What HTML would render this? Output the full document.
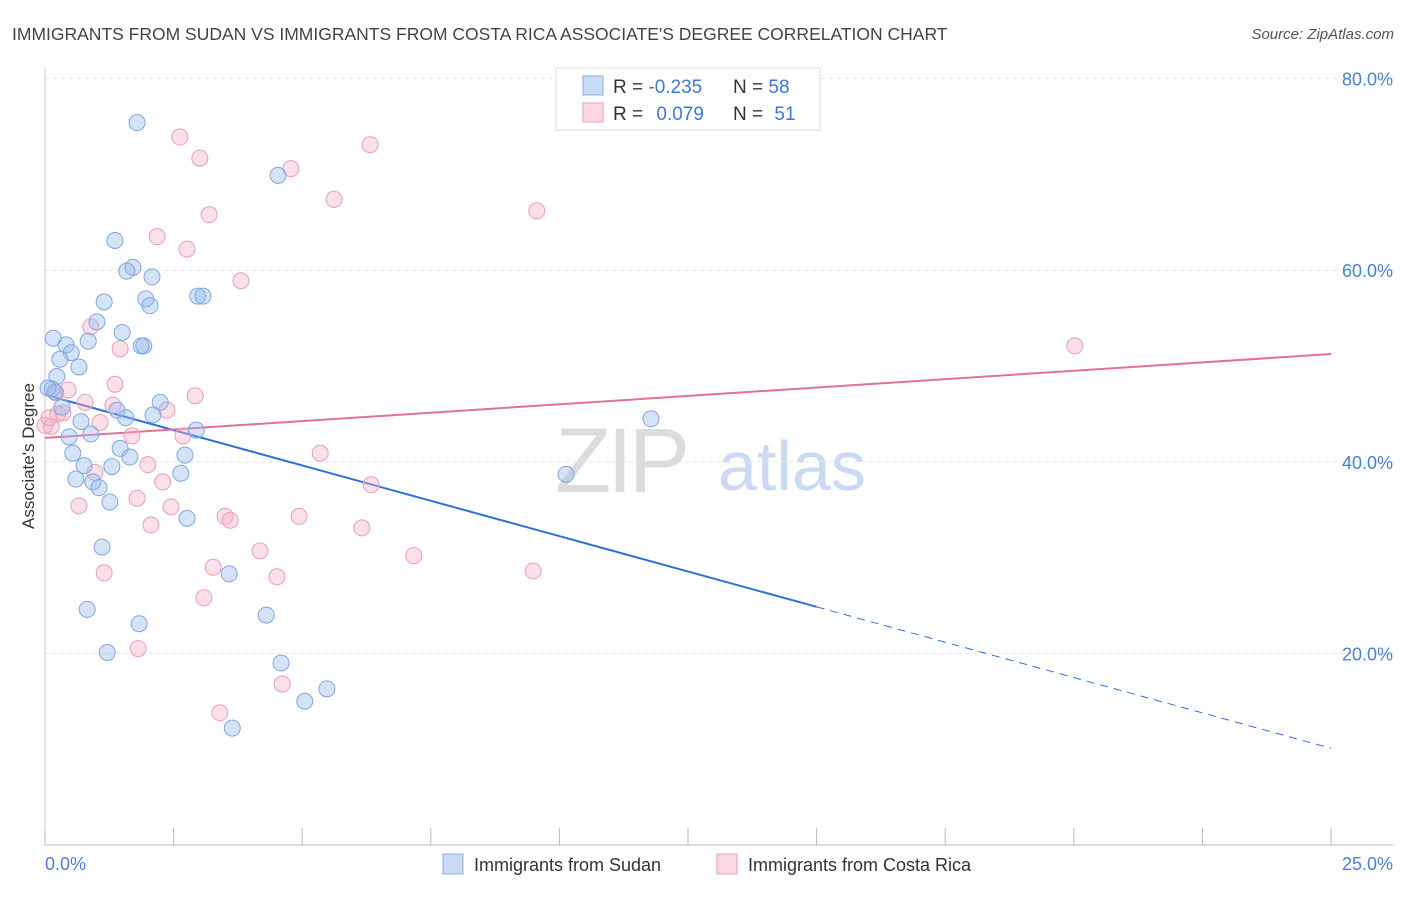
<!DOCTYPE html>
<html><head><meta charset="utf-8"><style>
body{margin:0;background:#fff;font-family:"Liberation Sans",sans-serif}
svg text{font-family:"Liberation Sans",sans-serif}
</style></head><body>
<svg id="chart" width="1406" height="892" xmlns="http://www.w3.org/2000/svg">
<text x="12" y="40" font-size="17.5" fill="#444">IMMIGRANTS FROM SUDAN VS IMMIGRANTS FROM COSTA RICA ASSOCIATE'S DEGREE CORRELATION CHART</text>
<text x="1394" y="39" font-size="15" fill="#555" text-anchor="end" font-style="italic">Source: ZipAtlas.com</text>
<g>
<text x="555" y="492" font-size="92" fill="#dcdcdc" font-family="Liberation Serif" letter-spacing="-4">ZIP</text>
<text x="718" y="490" font-size="70" fill="#c9daf2">atlas</text>
</g>
<g id="grid"></g>
<g id="axes"></g>
<g id="trends"></g>
<g id="points"></g>
<text transform="translate(34,456) rotate(-90)" font-size="17" fill="#333" text-anchor="middle">Associate's Degree</text>
<g>
<rect x="556" y="68" width="264" height="62" fill="#fff" stroke="#ddd"/>
<rect x="583" y="76" width="20" height="19" fill="rgba(150,185,235,0.5)" stroke="#8ab0e0"/>
<rect x="583" y="103" width="20" height="19" fill="rgba(245,175,200,0.5)" stroke="#e8a0b8"/>
<text x="613" y="93" font-size="19" fill="#333">R = <tspan fill="#3b78d8">-0.235</tspan></text>
<text x="733" y="93" font-size="19" fill="#333">N = <tspan fill="#3b78d8">58</tspan></text>
<text x="613" y="120" font-size="19" fill="#333">R = <tspan fill="#3b78d8" dx="8">0.079</tspan></text>
<text x="733" y="120" font-size="19" fill="#333">N = <tspan fill="#3b78d8" dx="6">51</tspan></text>
</g>
<g>
<rect x="443" y="854" width="20" height="20" fill="rgba(150,185,235,0.5)" stroke="#8ab0e0"/>
<text x="474" y="871" font-size="18" fill="#333">Immigrants from Sudan</text>
<rect x="717" y="854" width="20" height="20" fill="rgba(245,175,200,0.5)" stroke="#e8a0b8"/>
<text x="748" y="871" font-size="18" fill="#333">Immigrants from Costa Rica</text>
</g>
</svg>
<script>
const yTicks=[20,40,60,80];
const xTickLabels=["0.0%","25.0%"];
const sudanX=[1.79,4.53,1.36,1.71,1.59,2.08,1.15,1.96,2.04,2.97,3.07,1.01,1.50,0.16,0.41,0.84,1.92,1.87,0.51,0.29,0.66,0.23,0.14,0.19,2.24,1.40,1.57,2.10,0.70,0.89,0.47,2.94,1.46,0.54,1.65,2.72,0.76,1.30,2.64,0.60,0.93,1.05,1.26,2.76,1.11,3.58,0.82,4.30,1.83,1.21,4.59,5.48,5.05,3.64,11.78,10.13,0.06,0.33];
const sudanY=[75.4,69.9,63.1,60.3,59.9,59.3,56.7,57.0,56.3,57.3,57.3,54.6,53.5,52.9,52.2,52.6,52.1,52.1,51.4,50.7,49.9,48.9,47.6,47.3,46.2,45.4,44.6,44.9,44.2,42.9,42.6,43.3,41.4,40.9,40.5,40.7,39.6,39.5,38.8,38.2,37.9,37.3,35.8,34.1,31.1,28.3,24.6,24.0,23.1,20.1,19.0,16.3,15.0,12.2,44.5,38.7,47.7,45.7];
const costaX=[2.62,3.01,6.32,4.78,5.62,3.19,9.56,2.18,2.76,3.81,0.89,1.46,20.02,1.36,0.45,0.21,2.92,0.78,1.32,2.37,0.35,1.07,0.25,1.69,2.68,0.12,5.35,2.00,0.97,2.29,6.34,1.79,0.66,2.45,3.50,3.60,4.94,2.06,6.16,4.18,7.17,3.27,1.15,4.51,9.49,3.09,1.81,4.61,3.40,0,0.08];
const costaY=[73.9,71.7,73.1,70.6,67.4,65.8,66.2,63.5,62.2,58.9,54.1,51.8,52.1,48.1,47.5,47.2,46.9,46.2,45.9,45.4,45.1,44.1,45.0,42.7,42.7,43.7,40.9,39.7,38.9,37.9,37.6,36.2,35.4,35.3,34.3,33.9,34.3,33.4,33.1,30.7,30.2,29.0,28.4,28.0,28.6,25.8,20.5,16.8,13.8,43.8,44.6];
const sudanTrend=[47.0,-1.476];
const costaTrend=[42.5,0.35];
const sudanSolidEnd=15;

const NS="http://www.w3.org/2000/svg";
const X=v=>45+v/25*1286;
const Y=v=>845-v/20*191.6;
function mk(tag,attrs,parent){const e=document.createElementNS(NS,tag);for(const k in attrs)e.setAttribute(k,attrs[k]);parent.appendChild(e);return e;}
const grid=document.getElementById('grid'),axes=document.getElementById('axes'),tr=document.getElementById('trends'),pts=document.getElementById('points');
yTicks.forEach(t=>{
  const l=mk('line',{x1:45,x2:1393,y1:Y(t),y2:Y(t),stroke:'#e2e2e2','stroke-dasharray':'4,4'},grid);
  
  
  const tx=mk('text',{x:1393,y:Y(t)+7,'font-size':18,fill:'#4a80d6','text-anchor':'end'},axes);
  tx.textContent=t.toFixed(1)+'%';
  
  
});
const ax=mk('line',{x1:45,x2:1393,y1:845,y2:845,stroke:'#bbb'},axes);


const ay=mk('line',{x1:45,x2:45,y1:68,y2:845,stroke:'#ccc'},axes);


for(let i=0;i<=10;i++){
  const t=mk('line',{x1:X(i*2.5),x2:X(i*2.5),y1:828,y2:845,stroke:'#bbb'},axes);
  
  
}
[[0,'start',45],[25,'end',1393]].forEach((d,i)=>{
  const t=mk('text',{x:d[2],y:870,'font-size':18,fill:'#4a80d6','text-anchor':d[1]},axes);
  t.textContent=xTickLabels[i];
  
  
});
function dot(x,y,fill,stroke,name){
  const c=mk('circle',{cx:X(x),cy:Y(y),r:8,fill:fill,stroke:stroke,'stroke-width':1},pts);
  
  
}
costaX.forEach((x,i)=>dot(x,costaY[i],'rgba(245,175,200,0.4)','#e8a0b8','costa-rica-point'));
sudanX.forEach((x,i)=>dot(x,sudanY[i],'rgba(150,185,235,0.4)','#7fa8e0','sudan-point'));
const f=(t,x)=>t[0]+t[1]*x;
const b1=mk('line',{x1:X(0),y1:Y(f(sudanTrend,0)),x2:X(sudanSolidEnd),y2:Y(f(sudanTrend,sudanSolidEnd)),stroke:'#2f72d6','stroke-width':2},tr);


const b2=mk('line',{x1:X(sudanSolidEnd),y1:Y(f(sudanTrend,sudanSolidEnd)),x2:X(25),y2:Y(f(sudanTrend,25)),stroke:'#2f72d6','stroke-width':1,'stroke-dasharray':'8,6'},tr);


const p1=mk('line',{x1:X(0),y1:Y(f(costaTrend,0)),x2:X(25),y2:Y(f(costaTrend,25)),stroke:'#e4709a','stroke-width':2},tr);


</script>
</body></html>
